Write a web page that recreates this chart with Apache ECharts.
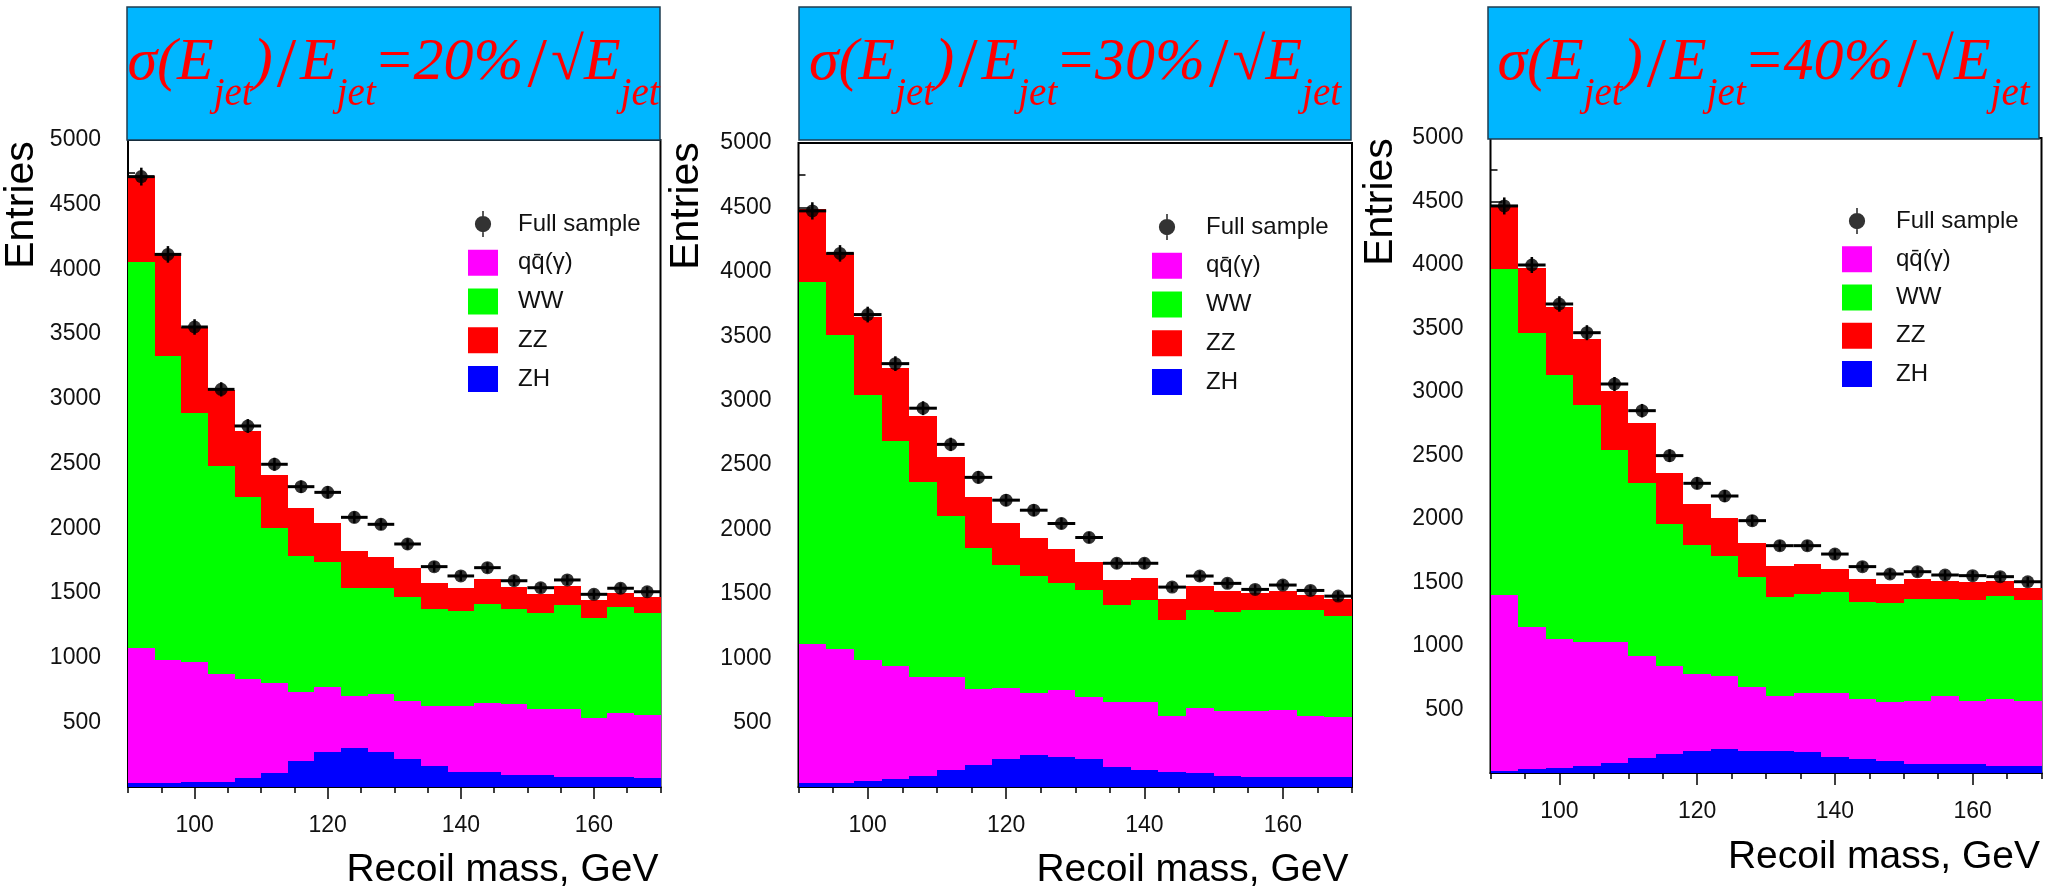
<!DOCTYPE html>
<html>
<head>
<meta charset="utf-8">
<script src="https://cdn.jsdelivr.net/npm/echarts@6/dist/echarts.min.js"></script>
<style>html,body{margin:0;padding:0;background:#fff}#chart{width:2059px;height:891px}</style>
</head>
<body>
<div id="chart"></div>
<script>
// ---------------- data ----------------
const binEdges = [90,94,98,102,106,110,114,118,122,126,130,134,138,142,146,150,154,158,162,166,170];
const xTickLabels = [100,120,140,160];
const yTickLabels = [500,1000,1500,2000,2500,3000,3500,4000,4500,5000];
const resolutions = ['20%','30%','40%'];
const seriesNames = ['ZH','qq\u0304(\u03b3)','WW','ZZ'];
const seriesColors = ['#0000FF','#FF00FF','#00FF00','#FF0000'];

// panel 1 : 20%/sqrt(E)
const zh20 = [28,28,41,41,67,111,201,268,299,268,214,162,118,118,93,93,80,80,80,67];
const qq20 = [1049,953,928,830,765,690,536,507,407,451,451,464,508,534,546,507,520,451,490,489];
const ww20 = [2983,2352,1919,1610,1412,1198,1046,966,834,821,806,747,737,762,734,747,806,778,818,791];
const zz20 = [662,794,667,587,507,412,370,302,284,240,219,206,173,191,175,144,150,136,109,124];
const full20 = [4717,4116,3555,3073,2790,2494,2321,2277,2084,2030,1878,1703,1631,1695,1594,1540,1600,1489,1536,1509];
const err20 = [69,64,60,55,53,50,48,48,46,45,43,41,40,41,40,39,40,39,39,39];

// panel 2 : 30%/sqrt(E)
const zh30 = [34,34,47,60,88,132,171,216,249,231,216,158,132,119,106,88,75,75,75,75];
const qq30 = [1080,1038,937,882,766,722,590,552,481,524,482,499,525,429,507,499,512,525,478,468];
const ww30 = [2809,2435,2056,1747,1516,1251,1096,953,908,826,828,755,794,747,765,771,791,778,825,783];
const zz30 = [563,636,610,564,514,455,391,327,293,270,221,195,174,167,182,163,125,143,109,130];
const full30 = [4473,4143,3668,3287,2941,2660,2404,2227,2149,2046,1937,1737,1737,1552,1638,1581,1534,1568,1526,1482];
const err30 = [67,64,61,57,54,52,49,47,46,45,44,42,42,39,40,40,39,40,39,38];

// panel 3 : 40%/sqrt(E)
const zh40 = [16,29,42,58,81,121,150,176,186,176,176,163,123,110,94,71,71,71,58,58];
const qq40 = [1386,1118,1013,976,948,803,695,604,580,499,433,469,509,473,462,498,538,498,522,511];
const ww40 = [2564,2315,2079,1864,1514,1357,1116,1015,945,871,779,777,791,761,780,798,758,793,814,793];
const zz40 = [499,517,533,517,467,477,404,321,299,267,244,237,181,181,152,161,147,139,120,97];
const full40 = [4465,4000,3693,3467,3063,2853,2499,2281,2181,1987,1790,1790,1724,1625,1567,1585,1559,1554,1546,1506];
const err40 = [67,63,61,59,55,53,50,48,47,45,42,42,42,40,40,40,39,39,39,39];

const panelsData = [
  {parts:[zh20,qq20,ww20,zz20], full:full20, err:err20},
  {parts:[zh30,qq30,ww30,zz30], full:full30, err:err30},
  {parts:[zh40,qq40,ww40,zz40], full:full40, err:err40}
];

// ---------------- layout ----------------
const layout = [
  {grid:{left:128, top:140, width:532.5, height:647}, box:{x:127, y:7, w:533, h:133},
   legend:{left:463, top:206, gap:12.75, pad:15}, entries:[22,205], xname:[658.5,870]},
  {grid:{left:798.5, top:143, width:553.5, height:644}, box:{x:799, y:7, w:552, h:133},
   legend:{left:1147, top:209, gap:12.75, pad:19}, entries:[687,206], xname:[1348.5,870]},
  {grid:{left:1490.5, top:138, width:551, height:635}, box:{x:1488, y:7, w:551, h:132},
   legend:{left:1837, top:203, gap:12.25, pad:19}, entries:[1381,202], xname:[2040,857]}
];

const SANS = '"Liberation Sans", Arial, sans-serif';
const SERIF = '"Liberation Serif", "Times New Roman", serif';
const fullIcon = 'path://M9 0H11V32H9Z M10 6A10 10 0 1 1 10 26A10 10 0 1 1 10 6Z';

function stackRows(parts) {
  const base = binEdges.slice(1).map(() => 0);
  return parts.map(arr => arr.map((v, i) => {
    const row = [binEdges[i], binEdges[i + 1], base[i], base[i] + v];
    base[i] += v;
    return row;
  }));
}

function histItem(params, api) {
  const a = api.coord([api.value(0), api.value(3)]);
  const b = api.coord([api.value(1), api.value(2)]);
  const x0 = Math.round(a[0]), x1 = Math.round(b[0]);
  const y0 = Math.round(a[1]), y1 = Math.round(b[1]);
  return {type:'rect', shape:{x:x0, y:y0, width:x1 - x0, height:y1 - y0},
          style:{fill: api.visual('color')}};
}

function errItem(params, api) {
  const lo = api.value(0), hi = api.value(1), c = api.value(2), y = api.value(3), e = api.value(4);
  const pl = api.coord([lo, y]), ph = api.coord([hi, y]);
  const pt = api.coord([c, y + e]), pb = api.coord([c, y - e]);
  return {type:'group', children:[
    {type:'line', shape:{x1:pl[0], y1:pl[1], x2:ph[0], y2:ph[1]}, style:{stroke:'#000', lineWidth:3}},
    {type:'line', shape:{x1:pt[0], y1:pt[1], x2:pb[0], y2:pb[1]}, style:{stroke:'#000', lineWidth:2.5}}
  ]};
}

const titleRich = {
  m:{fontFamily:SERIF, fontStyle:'italic', fontSize:60, fill:'#FF0000', verticalAlign:'top'},
  e:{fontFamily:SERIF, fontSize:60, fill:'#FF0000', verticalAlign:'top', padding:[0,2,0,2]},
  s:{fontFamily:SERIF, fontStyle:'italic', fontSize:39, fill:'#FF0000', verticalAlign:'top', padding:[42,0,0,0]},
  sl:{fontFamily:SERIF, fontSize:70, fill:'#FF0000', verticalAlign:'top', padding:[0,4,0,4]}
};

const grids = [], xAxes = [], yAxes = [], series = [], legends = [], graphics = [];

layout.forEach((L, p) => {
  grids.push(Object.assign({show:true, borderColor:'#000', borderWidth:2, backgroundColor:'#fff'}, L.grid));
  xAxes.push({
    gridIndex:p, type:'value', min:90, max:170, interval:5, position:'bottom',
    axisLine:{show:true, onZero:false, lineStyle:{color:'#000', width:2}},
    axisTick:{show:true, inside:false, length:6, lineStyle:{color:'#000', width:1.5}},
    axisLabel:{show:true, margin:27, fontSize:23, fontFamily:SANS, color:'#111',
               formatter: v => xTickLabels.indexOf(v) >= 0 ? String(v) : ''},
    splitLine:{show:false}
  });
  xAxes.push({
    gridIndex:p, type:'value', min:90, max:170, interval:5, position:'bottom',
    axisLine:{show:false},
    axisTick:{show:true, inside:false, length:12, customValues:xTickLabels, lineStyle:{color:'#000', width:1.5}},
    axisLabel:{show:false}, splitLine:{show:false}
  });
  yAxes.push({
    gridIndex:p, type:'value', min:0, max:5000, interval:500,
    axisLine:{show:false},
    axisTick:{show:true, inside:true, length:12, lineStyle:{color:'#000', width:1.5}},
    minorTick:{show:true, splitNumber:2, length:7, lineStyle:{color:'#000', width:1.5}},
    axisLabel:{show:true, margin:27, fontSize:23, fontFamily:SANS, color:'#111',
               formatter: v => yTickLabels.indexOf(v) >= 0 ? String(v) : ''},
    splitLine:{show:false}
  });

  const D = panelsData[p];
  const rows = stackRows(D.parts);
  rows.forEach((r, k) => {
    series.push({
      type:'custom', name:seriesNames[k], xAxisIndex:2 * p, yAxisIndex:p,
      itemStyle:{color:seriesColors[k]}, renderItem:histItem,
      encode:{x:[0,1], y:[2,3]}, data:r, z:2, silent:true
    });
  });
  const centers = binEdges.slice(0, -1).map((lo, i) => (lo + binEdges[i + 1]) / 2);
  series.push({
    type:'scatter', name:'Full sample', xAxisIndex:2 * p, yAxisIndex:p,
    symbol:'circle', symbolSize:13, itemStyle:{color:'#000'}, z:5, silent:true,
    data:D.full.map((v, i) => [centers[i], v])
  });
  series.push({
    type:'custom', name:'Full sample', xAxisIndex:2 * p, yAxisIndex:p,
    itemStyle:{color:'#000'}, renderItem:errItem, z:4, silent:true,
    encode:{x:[0,1,2], y:[3]},
    data:D.full.map((v, i) => [binEdges[i], binEdges[i + 1], centers[i], v, D.err[i]])
  });

  legends.push({
    orient:'vertical', left:L.legend.left, top:L.legend.top, itemWidth:30, itemHeight:26,
    itemGap:L.legend.gap, selectedMode:false, icon:'rect',
    textStyle:{fontSize:24, fontFamily:SANS, color:'#111', padding:[0,0,0,L.legend.pad]},
    data:[{name:'Full sample', icon:fullIcon}, seriesNames[1], seriesNames[2], seriesNames[3], seriesNames[0]]
  });

  graphics.push({
    type:'rect', z:1, shape:{x:L.box.x, y:L.box.y, width:L.box.w, height:L.box.h},
    style:{fill:'#00B6FF', stroke:'#1F3D50', lineWidth:1.5}
  });
  graphics.push({
    type:'text', z:3, x:L.box.x + L.box.w / 2, y:33,
    style:{
      text:'{m|\u03c3(E}{s|jet}{m|)}{sl|/}{m|E}{s|jet}{e|=}{m|' + resolutions[p] + '}{sl|/}{m|\u221aE}{s|jet}',
      rich:titleRich, align:'center', verticalAlign:'top'
    }
  });
  graphics.push({
    type:'text', z:3, x:L.entries[0], y:L.entries[1], rotation:Math.PI / 2,
    style:{text:'Entries', font:'41px "Liberation Sans", Arial, sans-serif', fill:'#000', align:'center', verticalAlign:'middle'}
  });
  graphics.push({
    type:'text', z:3, x:L.xname[0], y:L.xname[1],
    style:{text:'Recoil mass, GeV', font:'39px "Liberation Sans", Arial, sans-serif', fill:'#000', align:'right', verticalAlign:'middle'}
  });
});

const chart = echarts.init(document.getElementById('chart'), null, {renderer:'canvas'});
chart.setOption({
  backgroundColor:'#fff',
  animation:false,
  grid:grids, xAxis:xAxes, yAxis:yAxes, series:series, legend:legends,
  graphic:{elements:graphics}
});
</script>
</body>
</html>
